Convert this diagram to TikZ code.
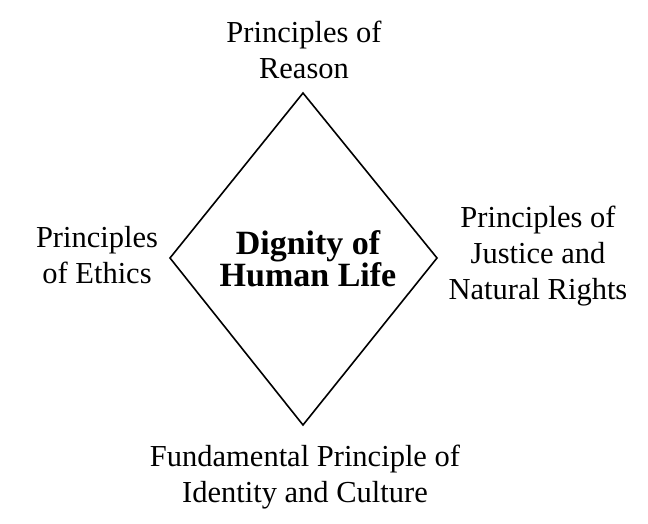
\documentclass[tikz,border=0pt]{standalone}
\usepackage{fontspec}
\setmainfont{Liberation Serif}
\begin{document}
\begin{tikzpicture}[x=1pt,y=-1pt,
  lbl/.style={align=center,font=\fontsize{30.5}{36}\selectfont,inner sep=0pt},
  ctr/.style={align=center,font=\fontsize{34}{32}\selectfont\bfseries,inner sep=0pt},
  edge/.style={draw=black,line width=1.6pt,line join=miter}]
\useasboundingbox (0,0) rectangle (648,523);
\coordinate (T) at (303,93);
\coordinate (R) at (437,258);
\coordinate (B) at (303,425);
\coordinate (L) at (170,258);
\draw[edge] (T) -- (R) -- (B) -- (L) -- cycle;
\node[lbl] (top) at (304,50) {Principles of\\Reason};
\node[lbl] (left) at (97,255) {Principles\\of Ethics};
\node[ctr] (mid) at (308,259) {Dignity of\\Human Life};
\node[lbl] (right) at (538,256) {Principles of\\Justice and\\Natural Rights};
\node[lbl] (bottom) at (305,477) {Fundamental Principle of\\Identity and Culture};
\end{tikzpicture}
\end{document}
